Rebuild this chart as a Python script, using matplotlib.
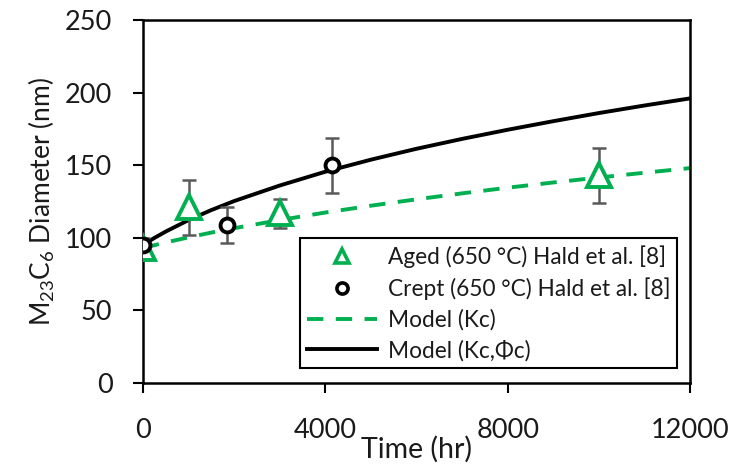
import numpy as np
import matplotlib.pyplot as plt

plt.rcParams['font.family'] = ['Lato', 'DejaVu Sans']
plt.rcParams['mathtext.fontset'] = 'custom'
plt.rcParams['mathtext.rm'] = 'Lato'
plt.rcParams['mathtext.it'] = 'Lato'

# Hald et al. [8] measurements at 650 °C
aged_t = [0, 1000, 3000, 10000]
aged_d = [93, 121, 117, 143]
aged_err = [4, 19, 10, 19]

crept_t = [0, 1850, 4150]
crept_d = [95, 109, 150]
crept_err = [5, 12.5, 19]

# model curves
model_t = [0, 250, 500, 1000, 1500, 2000, 3000, 4000, 5000, 6000, 7000,
           8000, 9000, 10000, 11000, 12000]
model_kc = [93, 94.9, 96.8, 100.3, 103.6, 106.6, 112.2, 117.4, 122.1, 126.5,
            130.6, 134.5, 138.1, 141.5, 144.8, 148]
model_kc_phic = [95, 99.9, 104.3, 112.2, 119.1, 125.3, 136.0, 145.5, 153.8,
                 161.3, 168.1, 174.4, 180.3, 185.9, 191.1, 196]

green = '#00B050'
grey = '#595959'
txt = '#1a1a1a'

fig = plt.figure(figsize=(7.4, 4.75), dpi=100)
ax = fig.add_axes([0.1932, 0.1937, 0.7392, 0.7642])

ax.plot(model_t, model_kc, color=green, lw=2.8, ls=(0, (4.2, 3.2)),
        label='Model (Kc)', zorder=2)
ax.plot(model_t, model_kc_phic, color='black', lw=2.8,
        label='Model (Kc,\u03a6c)', zorder=2)

ax.errorbar(aged_t, aged_d, yerr=aged_err, fmt='none', ecolor=grey,
            elinewidth=1.8, capsize=4.7, capthick=1.8, zorder=3)
ax.errorbar(crept_t, crept_d, yerr=crept_err, fmt='none', ecolor=grey,
            elinewidth=1.8, capsize=4.7, capthick=1.8, zorder=3)
ax.plot(aged_t, aged_d, ls='none', marker='^', ms=17, mfc='white',
        mec=green, mew=2.8, label='Aged (650 \u00b0C) Hald et al. [8]',
        zorder=4)
ax.plot(crept_t, crept_d, ls='none', marker='o', ms=10, mfc='white',
        mec='black', mew=2.8, label='Crept (650 \u00b0C) Hald et al. [8]',
        zorder=4)

ax.set_xlim(0, 12000)
ax.set_ylim(0, 250)
ax.set_xticks([0, 4000, 8000, 12000])
ax.set_yticks(range(0, 251, 50))
ax.tick_params(labelsize=19.5, length=7, width=1.5, color='black',
               labelcolor=txt)
ax.tick_params(axis='x', pad=18)
ax.tick_params(axis='y', pad=15)
for s in ax.spines.values():
    s.set_linewidth(1.8)

ax.set_xlabel('Time (hr)', fontsize=20.5, color=txt, labelpad=-5)
ax.set_ylabel('M$_{23}$C$_6$ Diameter (nm)', fontsize=19, color=txt,
              labelpad=6)

handles, labels = ax.get_legend_handles_labels()
order = [2, 3, 0, 1]
h_aged = plt.Line2D([], [], ls='none', marker='^', ms=10, mfc='white',
                    mec=green, mew=2.6)
h_crept = plt.Line2D([], [], ls='none', marker='o', ms=8, mfc='white',
                     mec='black', mew=2.6)
leg = ax.legend([h_aged, h_crept, handles[0], handles[1]],
                [labels[i] for i in order], loc='lower right',
                bbox_to_anchor=(0.976, 0.041), fontsize=16.3, frameon=True,
                fancybox=False, edgecolor='black', framealpha=1,
                handlelength=3.1, handletextpad=0.45, labelspacing=0.41,
                borderpad=0.3, borderaxespad=0)
leg.get_frame().set_linewidth(1.5)
for t in leg.get_texts():
    t.set_color(txt)

fig.savefig('out.png', dpi=100)
